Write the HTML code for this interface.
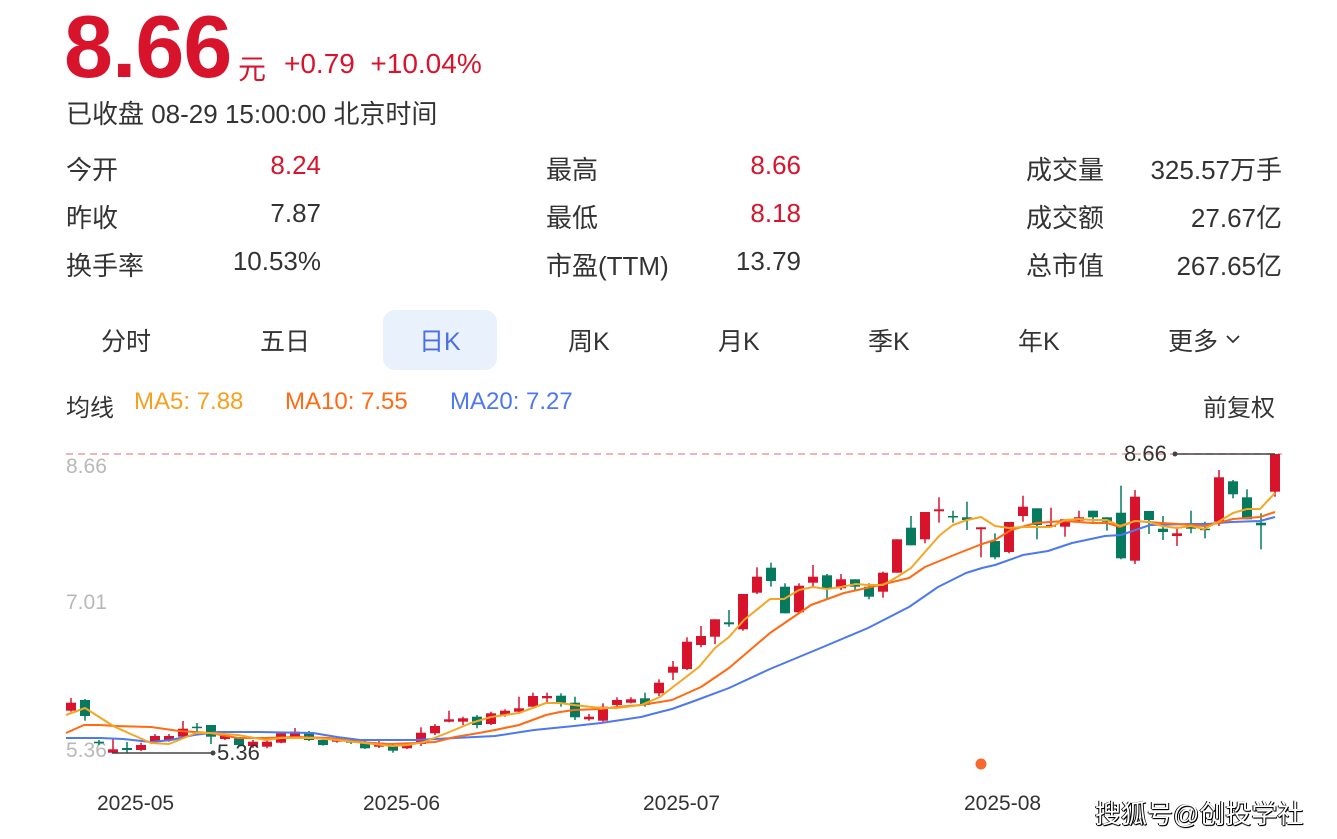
<!DOCTYPE html>
<html><head><meta charset="utf-8">
<style>
body{margin:0;width:1337px;height:839px;background:#fff;overflow:hidden;font-family:"Liberation Sans","Noto Sans CJK SC",sans-serif;color:#333;position:relative}
.a{position:absolute;white-space:nowrap}
.r{color:#d8142d}
.lab{font-size:26px}
.v{font-size:26px;text-align:right;width:200px}
.tab{font-size:25px;color:#333}
</style></head><body>
<div class="a r" style="left:64px;top:-4px;font-size:88px;font-weight:bold;letter-spacing:-1px">8.66</div>
<div class="a r" style="left:238px;top:48px;font-size:28px">元</div>
<div class="a r" style="left:284px;top:48px;font-size:28px">+0.79&nbsp;&nbsp;+10.04%</div>
<div class="a" style="left:66px;top:94px;font-size:26px">已收盘 08-29 15:00:00 北京时间</div>

<div class="a lab" style="left:66px;top:150px">今开</div>
<div class="a v r" style="left:121px;top:150px">8.24</div>
<div class="a lab" style="left:66px;top:198px">昨收</div>
<div class="a v" style="left:121px;top:198px">7.87</div>
<div class="a lab" style="left:66px;top:246px">换手率</div>
<div class="a v" style="left:121px;top:246px">10.53%</div>

<div class="a lab" style="left:546px;top:150px">最高</div>
<div class="a v r" style="left:601px;top:150px">8.66</div>
<div class="a lab" style="left:546px;top:198px">最低</div>
<div class="a v r" style="left:601px;top:198px">8.18</div>
<div class="a lab" style="left:546px;top:246px">市盈(TTM)</div>
<div class="a v" style="left:601px;top:246px">13.79</div>

<div class="a lab" style="left:1026px;top:150px">成交量</div>
<div class="a v" style="left:1082px;top:150px">325.57万手</div>
<div class="a lab" style="left:1026px;top:198px">成交额</div>
<div class="a v" style="left:1082px;top:198px">27.67亿</div>
<div class="a lab" style="left:1026px;top:246px">总市值</div>
<div class="a v" style="left:1082px;top:246px">267.65亿</div>

<div class="a" style="left:383px;top:310px;width:114px;height:60px;background:#e9f1fd;border-radius:12px"></div>
<div class="a tab" style="left:101px;top:322px">分时</div>
<div class="a tab" style="left:260px;top:322px">五日</div>
<div class="a tab" style="left:419px;top:322px;color:#4a6fe3">日K</div>
<div class="a tab" style="left:568px;top:322px">周K</div>
<div class="a tab" style="left:718px;top:322px">月K</div>
<div class="a tab" style="left:868px;top:322px">季K</div>
<div class="a tab" style="left:1018px;top:322px">年K</div>
<div class="a tab" style="left:1168px;top:322px">更多</div>
<svg class="a" style="left:1224px;top:332px" width="18" height="14"><path d="M3 4 L9 10 L15 4" fill="none" stroke="#333" stroke-width="1.8"/></svg>

<div class="a" style="left:66px;top:388px;font-size:24px">均线</div>
<div class="a" style="left:134px;top:388px;font-size:24px;color:#f5a01f">MA5: 7.88</div>
<div class="a" style="left:285px;top:388px;font-size:24px;color:#ff6a13">MA10: 7.55</div>
<div class="a" style="left:450px;top:388px;font-size:24px;color:#4c78f0">MA20: 7.27</div>
<div class="a" style="left:1203px;top:388px;font-size:24px">前复权</div>

<svg id="c" class="a" style="left:0;top:0" width="1337" height="839">
<line x1="66" y1="454" x2="1282" y2="454" stroke="#f29a9f" stroke-width="1.5" stroke-dasharray="7,5"/>
<text x="66" y="473" font-size="21" fill="#b8b8b8" font-family="Liberation Sans">8.66</text>
<text x="66" y="609" font-size="21" fill="#b8b8b8" font-family="Liberation Sans">7.01</text>
<text x="66" y="757" font-size="21" fill="#b8b8b8" font-family="Liberation Sans">5.36</text>
<g id="g"></g>
<line x1="112" y1="753" x2="213" y2="753" stroke="#444" stroke-width="1.5"/><circle cx="213" cy="753" r="2.5" fill="#444"/>
<text x="217" y="760" font-size="22" fill="#333" font-family="Liberation Sans">5.36</text>
<line x1="1175" y1="454" x2="1275" y2="454" stroke="#444" stroke-width="1.5"/><circle cx="1175" cy="454" r="2.5" fill="#444"/>
<text x="1124" y="461" font-size="22" fill="#333" font-family="Liberation Sans">8.66</text>
<circle cx="981" cy="764" r="5.5" fill="#f7672e"/>
<text x="97" y="810" font-size="21" fill="#333" font-family="Liberation Sans">2025-05</text>
<text x="363" y="810" font-size="21" fill="#333" font-family="Liberation Sans">2025-06</text>
<text x="643" y="810" font-size="21" fill="#333" font-family="Liberation Sans">2025-07</text>
<text x="964" y="810" font-size="21" fill="#333" font-family="Liberation Sans">2025-08</text>
</svg>
<div class="a" style="left:1095px;top:794px;font-size:26px;color:#fff;text-shadow:1px 1px 0 #000,-1px 0 0 #000,0 1px 1px #000">搜狐号@创投学社</div>
<script>
var D=[
[1,702.7,710.7,698,711.7],[0,700,716,699,720.7],[0,741.7,743.3,740,745],[1,749.3,752.7,738,753],[0,748,750,742,753],
[1,745,750,742.7,751],[1,736,741.7,734,744],[1,736,740,734,741.7],[1,728.7,736.7,721,737.7],[0,726.7,728,723,731.7],
[0,725,736.7,725,744],[1,736,739,734,740],[0,738.3,745,737,746],[1,741.7,746,740,748],[1,741.7,746.7,740,748.3],
[1,733.3,742.7,731.7,743.3],[1,731.7,736.7,728,737.7],[0,732.7,740,731,741],[0,740,745,738,745.7],[1,738.3,741.7,737,742.7],
[0,740,742.7,738,744],[0,742.7,748.3,741,749],[1,742.7,746.7,741,748],[0,745,750.7,744,752.7],[1,745,748.3,744,749],
[1,732.7,744,727.3,746],[1,726,733.3,724,735],[1,719.3,721.7,710.7,722.3],[1,718.3,721.7,716.7,725],[0,716.7,725,715,728.3],
[1,713.3,724,711.7,725],[1,710.7,715,709.3,716.7],[1,708.3,711.7,696.7,714],[1,696,706.7,692.7,707.3],[1,696,698.3,692.7,702.7],
[0,695.7,702.7,693.3,706.7],[0,702.7,717.3,696.7,720],[1,716.7,719.3,714,720.7],[1,706.7,720.7,703.3,721.7],[1,700,705,697.3,706],
[1,699.3,702.7,697.3,703.3],[0,698.3,705,692.7,706.7],[1,682.7,693.3,679.3,696],[1,666.7,672.7,661,680],
[1,641.7,669,637.3,670],[1,636,645,626,647.3],[1,619.3,636.7,619.3,644],[0,622.3,624.3,610,626.7],[1,594,629.3,594,630.7],
[1,576.7,592.7,567.3,594],[0,567.7,581,562.7,586.7],[0,586.7,613.3,583.3,613.3],[1,585.7,612.3,583.3,612.3],[1,576.7,582.7,565,586.7],
[0,575.3,588.7,574,598.3],[1,579.3,588.3,574,590],[0,579.3,586.7,579.3,590],[0,586.7,596.7,583.3,599.3],[1,572.7,591.7,571.7,597.7],
[1,539.3,572.7,539.3,572.7],[0,527.7,545.3,516,545.3],[1,512,539.3,512,543.3],[1,509.3,511.3,497.3,522.7],[0,516,517.3,510.7,522.7],
[0,517.3,520,501.7,530],[1,527.3,529.3,527.3,557.3],[0,541,557.3,533.3,559.3],[1,522,552,522,553.3],[1,506.7,516,495.7,521.7],
[0,508.3,525,508.3,539.3],[1,525,526.7,507.7,527.3],[1,519.3,526.7,519.3,536.7],[1,517.3,520.7,510.7,522.7],[0,510.7,517.3,510.7,521.7],
[0,517.3,521.7,517.3,530.7],[0,512.7,558.3,485.7,559.3],[1,496.7,560.7,490,564],[0,511,520,511,534],[0,528.7,532,516,540],
[1,533.3,536,526.7,546],[0,526.7,528.7,510.7,533.3],[0,528.7,530,521.7,538.3],[1,477.3,521.7,470,526],[0,481.3,494.3,480,498.3],
[0,497.3,519.3,489.3,519.3],[0,522.7,525.3,513.3,549.3],[1,454,491.7,454,496.7]];
var s='',n=D.length;
for(var i=0;i<n;i++){var d=D[i],x=71+i*(1275-71)/(n-1),c=d[0]?'#d8142d':'#067a5f';
var h=Math.max(d[2]-d[1],1.5);
s+='<line x1="'+x+'" x2="'+x+'" y1="'+d[3]+'" y2="'+d[4]+'" stroke="'+c+'" stroke-width="1.5"/>';
s+='<rect x="'+(x-5)+'" y="'+d[1]+'" width="10" height="'+h+'" fill="'+c+'"/>';}
function pl(p,c){return '<polyline fill="none" stroke="'+c+'" stroke-width="2" stroke-linejoin="round" points="'+p+'"/>';}
var ma5="66,715 85,708 115,727 151,743 169,744 196,733 210,733 238,735 266,740 281,738 313,738 337,740 364,743 392,746 408,745 424,742 447,733 471,723 491,717 519,713 546,703 560,703 574,705 601,708 617,708 641,705 660,697 699,667 715,648 729,637 744,620 770,599 784,599 799,590 813,587 827,589 841,587 856,584 868,585 883,585 897,577 911,568 925,552 940,535 953,525 967,520 981,517 995,526 1009,528 1023,527 1037,527 1051,527 1065,520 1079,519 1093,520 1107,520 1120,526 1135,521 1149,522 1162,526 1177,528 1191,526 1204,529 1218,522 1233,513 1247,509 1260,509 1275,493";
var ma10="66,733 84,725 100,725 115,726 151,727 179,731 210,733 238,738 266,738 297,737 329,738 360,742 388,744 416,743 435,742 455,737 479,733 495,730 519,725 546,715 560,712 574,710 601,709 617,707 641,705 660,702 672,700 701,687 729,668 770,633 811,605 844,593 880,585 909,578 925,567 954,555 982,544 995,540 1011,530 1036,523 1064,521 1093,523 1107,523 1120,527 1135,521 1149,522 1162,523 1177,524 1191,525 1204,526 1218,523 1233,519 1260,517 1275,512";
var ma20="66,738 100,738 123,739 151,742 171,740 194,735 218,732 258,732 313,733 337,737 360,740 416,740 455,738 495,736 534,730 574,726 601,723 641,717 660,712 672,709 697,700 729,688 770,669 823,647 868,628 909,607 938,587 966,573 982,568 995,565 1023,555 1048,551 1072,543 1105,536 1121,535 1150,525 1191,524 1207,524 1231,522 1260,521 1275,517";
s+=pl(ma20,'#4c78f0')+pl(ma10,'#ff6a13')+pl(ma5,'#f5a623');
document.getElementById('g').innerHTML=s;
</script>
</body></html>
